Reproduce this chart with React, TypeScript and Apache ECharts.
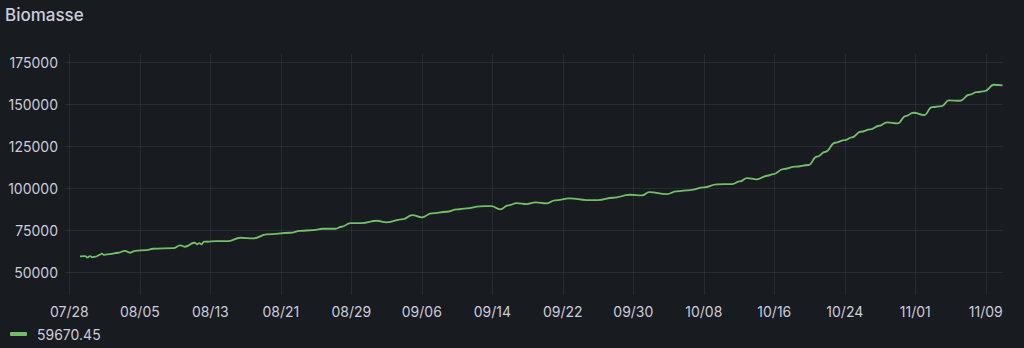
import React, { useEffect, useRef } from "react";
import * as echarts from "echarts";

// x = days since 07/28 00:00
const START_MONTH = 7;
const START_DAY = 28;
const xTickDays = [0, 8, 16, 24, 32, 40, 48, 56, 64, 72, 80, 88, 96, 104];
const dayOffsets = [
  1.21, 1.8, 2.05, 2.35, 2.6, 3.0, 3.5, 3.7, 3.95, 4.6, 5.56, 6.3, 6.9, 7.46, 8.8, 9.5, 11.8, 12.6, 13.1,
  14.2, 14.5, 14.75, 15.0, 15.3, 15.6, 16.7, 18.05, 19.4, 20.9, 22.4, 25.05, 26.2, 27.7, 28.8, 30.2,
  30.9, 31.9, 33.2, 34.9, 36.0, 37.9, 38.9, 40.0, 41.1, 42.8, 44.0, 45.1, 46.6, 47.9, 48.9, 49.8,
  50.8, 51.9, 52.9, 54.2, 55.1, 56.8, 58.7, 60.0, 61.7, 63.6, 65.0, 65.8, 67.8, 68.9, 70.5, 72.0,
  73.5, 75.2, 76.1, 76.9, 78.0, 79.2, 79.9, 81.0, 82.4, 83.9, 84.8, 85.8, 86.9, 88.0, 88.8, 89.8,
  90.9, 91.9, 92.8, 94.0, 94.9, 95.8, 97.0, 97.9, 99.0, 99.8, 101.1, 102.1, 103.0, 103.9, 104.9, 105.9,
];
const biomass = [
  59670, 59800, 59100, 59900, 59200, 59600, 60700, 61300, 60600, 61100, 61860, 63000, 61860, 63000,
  63460, 64230, 64650, 66250, 65420, 67800, 66900, 67600, 66840, 68500, 68380, 68800, 68800, 70760,
  70400, 72780, 73720, 74800, 75330, 76100, 76100, 77280, 79480, 79480, 80840, 79900, 81850, 84220,
  82860, 85230, 86180, 87600, 88200, 89380, 89560, 87600, 89970, 91340, 90750, 91750, 91160, 92940,
  94120, 93120, 93120, 94480, 96260, 95900, 97860, 96680, 98280, 99050, 100650, 102430, 102600,
  104200, 106170, 105400, 107530, 108540, 111510, 112900, 113900, 118800, 121770, 127100, 128700,
  130300, 133630, 135050, 137180, 139200, 138600, 142940, 144900, 143530, 148270, 148870, 152250,
  152020, 155570, 157170, 157770, 161500, 161150,
];
const yTickValues = [50000, 75000, 100000, 125000, 150000, 175000];
const legendLabel = "59670.45";
const titleText = "Biomasse";

const TEXT = "#ccccdc";
const GRID = "rgba(204,204,220,0.09)";
const FONT = "Inter, 'Noto Sans', sans-serif";

function dayLabel(d: number): string {
  const base = new Date(2023, START_MONTH - 1, START_DAY);
  const dt = new Date(base.getTime() + Math.round(d) * 86400000);
  const mm = String(dt.getMonth() + 1).padStart(2, "0");
  const dd = String(dt.getDate()).padStart(2, "0");
  return `${mm}/${dd}`;
}

export default function App() {
  const ref = useRef<HTMLDivElement>(null);
  useEffect(() => {
    document.body.style.margin = "0";
    document.body.style.background = "#181b1f";
    const chart = echarts.init(ref.current!, null, { renderer: "svg" });
    const gridLineStyle = { color: GRID, width: 1, type: "solid" as const };
    chart.setOption({
      animation: false,
      backgroundColor: "#181b1f",
      textStyle: { fontFamily: FONT },
      title: {
        text: titleText,
        left: 5,
        top: 6,
        padding: 0,
        textStyle: { color: TEXT, fontSize: 17, fontWeight: 500, fontFamily: FONT },
      },
      grid: { left: 65, right: 21, top: 54, bottom: 53, containLabel: false },
      legend: {
        left: 10,
        bottom: 7,
        padding: 0,
        icon: "roundRect",
        itemWidth: 17,
        itemHeight: 4,
        textStyle: { color: TEXT, fontSize: 14, fontFamily: FONT, padding: [0, 0, 0, 5] },
        data: [legendLabel],
      },
      xAxis: {
        type: "value",
        min: -0.49,
        max: 105.95,
        axisLine: { show: false },
        axisTick: { show: false },
        axisLabel: { show: false },
        splitLine: { show: false },
      },
      yAxis: {
        type: "value",
        min: 36800,
        max: 179750,
        axisLine: { show: false },
        axisTick: { show: false },
        axisLabel: { show: false },
        splitLine: { show: false },
      },
      series: [
        {
          name: legendLabel,
          type: "line",
          data: dayOffsets.map((d, i) => [d, biomass[i]]),
          showSymbol: false,
          smooth: 0.45,
          smoothMonotone: "x",
          lineStyle: { color: "#73bf69", width: 1.8 },
          itemStyle: { color: "#73bf69" },
          z: 3,
          markLine: {
            silent: true,
            symbol: ["none", "none"],
            animation: false,
            lineStyle: gridLineStyle,
            emphasis: { disabled: true },
            data: [
              ...yTickValues.map((v) => ({
                yAxis: v,
                lineStyle: gridLineStyle,
                label: {
                  show: true,
                  position: "start",
                  distance: 7,
                  color: TEXT,
                  fontSize: 14,
                  fontFamily: FONT,
                  formatter: String(v),
                },
              })),
              ...xTickDays.map((d) => ({
                xAxis: d,
                lineStyle: gridLineStyle,
                label: {
                  show: true,
                  position: "start",
                  distance: 9,
                  color: TEXT,
                  fontSize: 14,
                  fontFamily: FONT,
                  formatter: dayLabel(d),
                },
              })),
            ],
          },
        },
      ],
    });
    return () => chart.dispose();
  }, []);
  return (
    <div
      ref={ref}
      style={{ position: "fixed", left: 0, top: 0, width: 1024, height: 348 }}
    />
  );
}
